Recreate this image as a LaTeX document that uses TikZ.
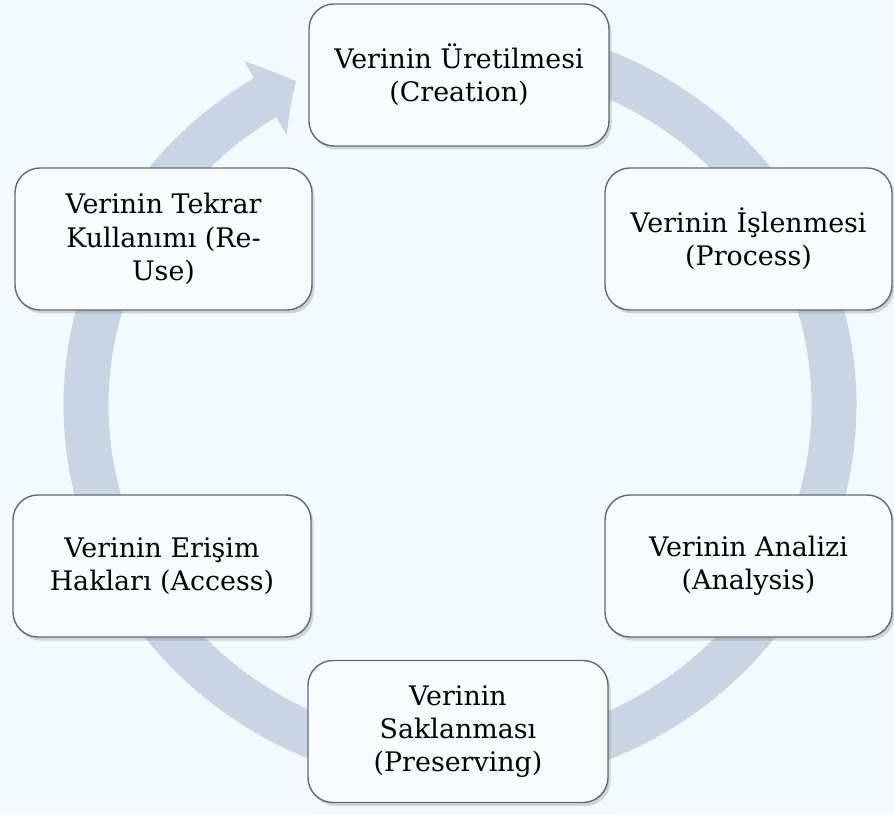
\documentclass[tikz,border=0pt]{standalone}
\usepackage{fontspec}
\setmainfont{DejaVu Serif}
\usepackage{tikz}
\usetikzlibrary{arrows.meta}
\usetikzlibrary{bending}
\usetikzlibrary{shadows}

\definecolor{bgblue}{RGB}{241,250,254}
\definecolor{boxfill}{RGB}{247,253,255}
\definecolor{boxline}{RGB}{100,105,115}
\definecolor{ringblue}{RGB}{201,212,228}

\begin{document}
\begin{tikzpicture}
    %% background
    \fill [bgblue] (0,0) rectangle (17.88,16.28);
    \useasboundingbox (0,0) rectangle (17.88,16.28);
    %% cycle arrow
    \coordinate (ctr) at (9.2,8.18);
    \draw [ringblue, line width=0.9cm, -{Triangle[length=0.7cm, width=1.65cm, bend]}]
        ([shift={(90:7.48 and 7.2)}]ctr) arc [start angle=90, end angle=-244, x radius=7.48, y radius=7.2];
    %% stages
    \tikzstyle {stagebox} = [shape=rectangle, rounded corners=0.5cm, draw=boxline, fill=boxfill, line width=0.8pt,
        minimum width=6cm, minimum height=2.84cm, align=center, font=\fontsize{15.3}{19}\selectfont,
        drop shadow={shadow xshift=0.05cm, shadow yshift=-0.07cm, opacity=0.3}];
    \node (cr) [stagebox] at (9.18,14.78) {Verinin Üretilmesi\\(Creation)};
    \node (pr) [stagebox, minimum width=5.74cm] at (14.97,11.5) {Verinin İşlenmesi\\(Process)};
    \node (an) [stagebox, minimum width=5.74cm] at (14.97,4.96) {Verinin Analizi\\(Analysis)};
    \node (ps) [stagebox] at (9.16,1.65) {Verinin\\Saklanması\\(Preserving)};
    \node (ac) [stagebox, minimum width=5.96cm] at (3.24,4.96) {Verinin Erişim\\Hakları (Access)};
    \node (ru) [stagebox, minimum width=5.94cm] at (3.27,11.5) {Verinin Tekrar\\Kullanımı (Re-\\Use)};
\end{tikzpicture}
\end{document}
